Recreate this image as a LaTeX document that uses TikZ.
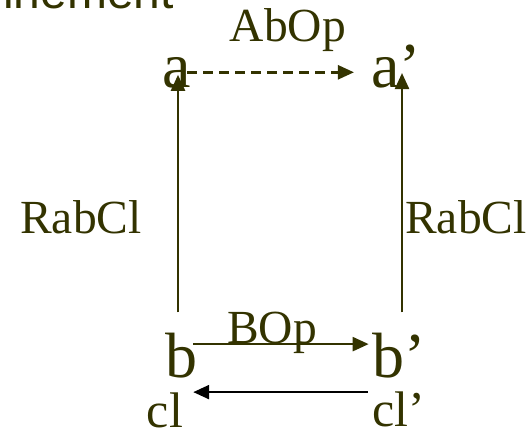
\documentclass[tikz,border=0pt]{standalone}
\usepackage{fontspec}
\setmainfont{Liberation Serif}
\setsansfont{Liberation Sans}
\usetikzlibrary{calc, arrows.meta}
\definecolor{diagOlive}{RGB}{51, 51, 0}

\begin{document}
\begin{tikzpicture}[x=1pt, y=-1pt, >={Triangle[length=16pt, width=14pt]},
  obj/.style={inner sep=0pt, anchor=base, text=diagOlive, font=\fontsize{64}{70}\selectfont},
  cls/.style={inner sep=0pt, anchor=base, text=diagOlive, font=\fontsize{50}{56}\selectfont},
  lbl/.style={inner sep=0pt, anchor=base, text=diagOlive, font=\fontsize{47.5}{52}\selectfont},
  arr/.style={->, line width=2.4pt, diagOlive}]
  \useasboundingbox (0,0) rectangle (529,432);

  % Title, cut at the top
  \node[inner sep=0pt, anchor=base east, text=diagOlive,
    font=\sffamily\fontsize{48}{54}\selectfont] (title) at (174,8) {inement};

  % Objects
  \node[obj] (a) at (177,87) {a};
  \node[obj] (a2) at (396,87) {a’};
  \node[obj] (b) at (181,377) {b};
  \node[obj] (b2) at (399.5,377) {b’};
  \node[cls] (cl) at (165,427) {cl};
  \node[cls] (cl2) at (398.5,426) {cl’};

  % Labels
  \node[lbl] (abop) at (288,41) {AbOp};
  \node[lbl] (bop) at (272,343) {BOp};
  \node[lbl] (rabL) at (81,233) {RabCl};
  \node[lbl] (rabR) at (466,233) {RabCl};

  % Arrows
  \draw[arr, dash pattern=on 10pt off 6pt, shorten <=-4pt, shorten >=17pt]
    (a.east) -- (a.east -| a2.west);
  \draw[arr] ([shift={(-3pt,20pt)}]b.north) -- ([shift={(1pt,-2.5pt)}]a.center);
  \draw[arr] ([shift={(2.5pt,20pt)}]b2.north) -- ([shift={(6pt,-7pt)}]a2.center);
  \draw[arr, shorten <=-4pt, shorten >=4pt]
    ([yshift=11pt]b.east) -- ([yshift=11pt]b.east -| b2.west);
  \draw[->, line width=2.4pt, black]
    ([shift={(-4pt,-1pt)}]cl2.north west) -- ([shift={(10pt,-1pt)}]cl2.north west -| cl.north east);
\end{tikzpicture}
\end{document}
